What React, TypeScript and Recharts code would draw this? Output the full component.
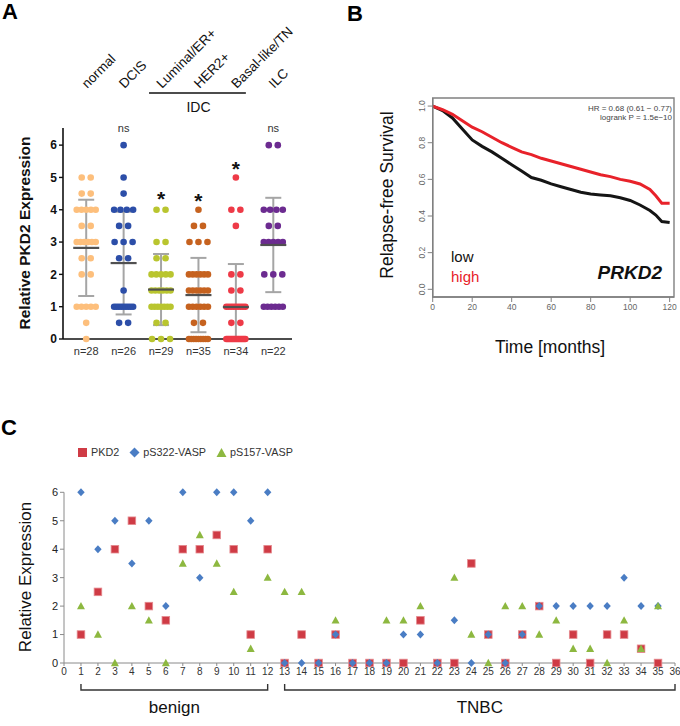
import React from 'react';
import { ScatterChart, Scatter, XAxis, YAxis, ErrorBar, LineChart, Line, ReferenceArea } from 'recharts';

const FONT = "'Liberation Sans', Arial, Helvetica, sans-serif";

// ---------------- Panel A data ----------------
const categoriesA = ['normal', 'DCIS', 'Luminal/ER+', 'HER2+', 'Basal-like/TN', 'ILC'];
const nLabelsA = [28, 26, 29, 35, 34, 22];
const colorsA = ['#FDBF7C', '#2C4EA8', '#B9C52F', '#C6621F', '#EE3A47', '#6C2B90'];
// [value, number of samples]
const normalDots = [[5, 2], [4.5, 2], [4, 5], [3.5, 2], [3, 6], [2.5, 2], [2, 2], [1, 5], [0.5, 1], [0, 1]];
const dcisDots = [[6, 1], [5, 1], [4.5, 1], [4, 4], [3.5, 2], [3, 3], [2.5, 2], [1.5, 1], [1, 9], [0.5, 2]];
const luminalDots = [[4, 2], [3, 2], [2.5, 2], [2, 5], [1.5, 6], [1, 7], [0.5, 2], [0, 3]];
const her2Dots = [[4, 1], [3.5, 2], [3, 3], [2, 6], [1.5, 6], [1, 6], [0.5, 2], [0, 9]];
const basalDots = [[5, 1], [4, 2], [3.5, 1], [2, 2], [1.5, 2], [1, 9], [0.5, 2], [0, 15]];
const ilcDots = [[6, 2], [4, 4], [3.5, 2], [3, 5], [2, 3], [1, 6]];
const meanA = [2.82, 2.35, 1.53, 1.36, 0.99, 2.91];
const sdA = [1.49, 1.59, 1.1, 1.15, 1.33, 1.46];
const sigTextA = ['', 'ns', '*', '*', '*', 'ns'];
const sigLevelA = [0, 6.53, 4.5, 4.43, 5.42, 6.53];
const yTicksA = [0, 1, 2, 3, 4, 5, 6];
const idcGroup = { label: 'IDC', from: 2, to: 4 };

// ---------------- Panel B data ----------------
const monthsB = [0, 5, 10, 15, 20, 25, 30, 35, 40, 45, 50, 55, 60, 65, 70, 75, 80, 85, 90, 95, 100, 105, 110, 113, 116, 120];
const survivalLow = [1.0, 0.975, 0.935, 0.875, 0.815, 0.78, 0.75, 0.715, 0.68, 0.645, 0.61, 0.595, 0.575, 0.56, 0.545, 0.53, 0.52, 0.515, 0.51, 0.5, 0.485, 0.46, 0.43, 0.405, 0.37, 0.365];
const survivalHigh = [1.0, 0.98, 0.955, 0.92, 0.885, 0.86, 0.83, 0.8, 0.775, 0.75, 0.735, 0.715, 0.7, 0.685, 0.67, 0.655, 0.64, 0.625, 0.615, 0.6, 0.59, 0.575, 0.545, 0.51, 0.47, 0.47];
const xTicksB = [0, 20, 40, 60, 80, 100, 120];
const yTicksB = [0, 0.2, 0.4, 0.6, 0.8, 1.0];
const B_XDOM: [number, number] = [0, 122.2];
const B_YDOM: [number, number] = [-0.042, 1.044];

// ---------------- Panel C data ----------------
const samplesC = [1, 2, 3, 4, 5, 6, 7, 8, 9, 10, 11, 12, 13, 14, 15, 16, 17, 18, 19, 20, 21, 22, 23, 24, 25, 26, 27, 28, 29, 30, 31, 32, 33, 34, 35];
const pkd2C = [1, 2.5, 4, 5, 2, 1.5, 4, 4, 4.5, 4, 1, 4, 0, 1, 0, 1, 0, 0, 0, 0, 1.5, 0, 0, 3.5, 1, 0, 1, 2, 0, 1, 0, 1, 1, 0.5, 0];
const pS322C = [6, 4, 5, 3.5, 5, 2, 6, 3, 6, 6, 5, 6, 0, 0, 0, 1, 0, 0, 0, 1, 1, 0, 1.5, 0, 1, 0, 1, 2, 2, 2, 2, 2, 3, 2, 2];
const pS157C = [2, 1, 0, 2, 1.5, 0, 3.5, 4.5, 3.5, 2.5, 0.5, 3, 2.5, 2.5, null, 1.5, null, null, 1.5, 1.5, 2, null, 3, 1, 0, 2, 2, 1, 1.5, 0.5, 0.5, 0, 1.5, 0.5, 2];
const xTicksC = Array.from({ length: 37 }, (_, i) => i);
const yTicksC = [0, 1, 2, 3, 4, 5, 6];
const groupsC = [{ name: 'benign', from: 1, to: 12 }, { name: 'TNBC', from: 13, to: 36 }];
const seriesC = [
  { name: 'PKD2', values: pkd2C, color: '#CF3B45', kind: 'square' },
  { name: 'pS322-VASP', values: pS322C, color: '#4A7DC4', kind: 'diamond' },
  { name: 'pS157-VASP', values: pS157C, color: '#8DB840', kind: 'triangle' },
];

// ---------------- Layout ----------------
const A_PLOT = { left: 63, right: 292, top: 128, bottom: 339 };
const A_XDOM: [number, number] = [-0.62, 5.5];
const pxA = (v: number) => A_PLOT.left + ((v - A_XDOM[0]) / (A_XDOM[1] - A_XDOM[0])) * (A_PLOT.right - A_PLOT.left);

const C_TOP = 440;
const C_PLOT = { left: 64, right: 675, top: 492.3, bottom: 663 };
const C_XDOM: [number, number] = [0, 36];
const pxC = (v: number) => C_PLOT.left + ((v - C_XDOM[0]) / (C_XDOM[1] - C_XDOM[0])) * (C_PLOT.right - C_PLOT.left);

// ---------------- helpers ----------------
type Dot = { x: number; y: number; slot: number; n: number };
const buildDots = (i: number, rows: number[][]): Dot[] => {
  const out: Dot[] = [];
  rows.forEach(([v, c]) => {
    for (let k = 0; k < c; k++) out.push({ x: i, y: v, slot: k - (c - 1) / 2, n: c });
  });
  return out;
};
const dotsA = [normalDots, dcisDots, luminalDots, her2Dots, basalDots, ilcDots].map((r, i) => buildDots(i, r));

const makeDot = (color: string) => (p: any) => {
  const n = p.payload.n;
  const sp = n <= 3 ? 9 : Math.min(6.5, 19 / (n - 1));
  return <circle cx={p.cx + p.payload.slot * sp} cy={p.cy} r={3.3} fill={color} />;
};

const meanTableA = categoriesA.map((c, i) => ({ x: i, y: meanA[i], err: [Math.min(sdA[i], meanA[i]), sdA[i]] }));
const MeanLine = (p: any) => (
  <line x1={p.cx - 13} x2={p.cx + 13} y1={p.cy} y2={p.cy} stroke="#505050" strokeWidth={2.2} />
);
const sigTableA = categoriesA
  .map((c, i) => ({ x: i, y: sigLevelA[i], label: sigTextA[i] }))
  .filter((d) => d.label);
const SigMark = (p: any) => {
  const t = p.payload.label;
  if (t === '*')
    return (
      <text x={p.cx} y={p.cy + 12} textAnchor="middle" fontSize={21} fontWeight="bold" fontFamily={FONT} fill="#111">
        *
      </text>
    );
  return (
    <text x={p.cx} y={p.cy + 4} textAnchor="middle" fontSize={11} fontFamily={FONT} fill="#333">
      {t}
    </text>
  );
};

const survLowData = monthsB.map((t, i) => ({ t, s: survivalLow[i] }));
const survHighData = monthsB.map((t, i) => ({ t, s: survivalHigh[i] }));
const BYTick = (p: any) => {
  const x = p.x - 1;
  return (
    <text x={x} y={p.y} transform={`rotate(-90 ${x} ${p.y})`} textAnchor="middle" fontSize={8.5} fontFamily={FONT} fill="#666">
      {Number(p.payload.value).toFixed(1)}
    </text>
  );
};

const shapeC = (kind: string, color: string) => (p: any) => {
  const { cx, cy } = p;
  if (kind === 'square')
    return <rect x={cx - 3.8} y={cy - 3.8} width={7.6} height={7.6} fill={color} stroke="#E58A8F" strokeWidth={0.8} />;
  if (kind === 'diamond')
    return <polygon points={`${cx},${cy - 4} ${cx + 3.7},${cy} ${cx},${cy + 4} ${cx - 3.7},${cy}`} fill={color} />;
  return <polygon points={`${cx},${cy - 4.2} ${cx + 4},${cy + 3.2} ${cx - 4},${cy + 3.2}`} fill={color} />;
};
const LegendIcon = ({ kind, color }: { kind: string; color: string }) => (
  <svg width={11} height={11} style={{ display: 'block' }}>
    {kind === 'square' && <rect x={1} y={1} width={9} height={9} fill={color} />}
    {kind === 'diamond' && <polygon points="5.5,0.5 10.5,5.5 5.5,10.5 0.5,5.5" fill={color} />}
    {kind === 'triangle' && <polygon points="5.5,1 10.5,10 0.5,10" fill={color} />}
  </svg>
);
const tableC = seriesC.map((s) =>
  samplesC.map((x, i) => ({ x, y: s.values[i] })).filter((d) => d.y !== null && d.y !== undefined)
);

export default function App() {
  return (
    <div style={{ position: 'absolute', left: 0, top: 0, width: 680, height: 726, background: '#fff', fontFamily: FONT, overflow: 'hidden' }}>
      {/* Panel A */}
      <div style={{ position: 'absolute', left: 0, top: 0 }}>
        <ScatterChart width={300} height={365} margin={{ top: A_PLOT.top, right: 300 - A_PLOT.right, bottom: 0, left: 0 }}>
          <XAxis type="number" dataKey="x" domain={A_XDOM} ticks={[0, 1, 2, 3, 4, 5]} height={26} axisLine={{ stroke: '#111', strokeWidth: 1.6 }} tickLine={false} tick={{ fontSize: 11, fill: '#333', fontFamily: FONT }} tickFormatter={(v: number) => `n=${nLabelsA[v]}`} />
          <YAxis type="number" dataKey="y" domain={[0, 6.5]} ticks={yTicksA} width={A_PLOT.left} axisLine={{ stroke: '#111', strokeWidth: 1.6 }} tickLine={{ stroke: '#111', strokeWidth: 1.4 }} tickSize={4} tick={{ fontSize: 12, fontWeight: 'bold', fill: '#111', fontFamily: FONT }} />
          {dotsA.map((d, i) => (
            <Scatter key={categoriesA[i]} data={d} shape={makeDot(colorsA[i])} isAnimationActive={false} />
          ))}
          <Scatter data={meanTableA} shape={MeanLine} isAnimationActive={false}>
            <ErrorBar dataKey="err" direction="y" width={8} stroke="#A5A5A5" strokeWidth={2} isAnimationActive={false} />
          </Scatter>
          <Scatter data={sigTableA} shape={SigMark} isAnimationActive={false} />
        </ScatterChart>
      </div>

      {/* Panel B */}
      <div style={{ position: 'absolute', left: 340, top: 0 }}>
        <LineChart width={340} height={360} margin={{ top: 98, right: 6, bottom: 43, left: 62.7 }}>
          <XAxis type="number" dataKey="t" domain={B_XDOM} ticks={xTicksB} height={20} axisLine={{ stroke: '#808080', strokeWidth: 1.4 }} tickLine={{ stroke: '#808080' }} tickSize={5} tick={{ fontSize: 8.5, fill: '#666', fontFamily: FONT }} />
          <YAxis type="number" domain={B_YDOM} ticks={yTicksB} width={30} axisLine={{ stroke: '#808080', strokeWidth: 1.4 }} tickLine={{ stroke: '#808080' }} tickSize={5} tick={(p: any) => <BYTick {...p} />} />
          <ReferenceArea x1={B_XDOM[0]} x2={B_XDOM[1]} y1={B_YDOM[0]} y2={B_YDOM[1]} fill="none" fillOpacity={0} stroke="#808080" strokeWidth={1.4} ifOverflow="visible" />
          <Line data={survLowData} dataKey="s" type="linear" stroke="#151515" strokeWidth={3} dot={false} isAnimationActive={false} />
          <Line data={survHighData} dataKey="s" type="linear" stroke="#E8222A" strokeWidth={3} dot={false} isAnimationActive={false} />
        </LineChart>
      </div>

      {/* Panel C */}
      <div style={{ position: 'absolute', left: 0, top: C_TOP }}>
        <ScatterChart width={680} height={246} margin={{ top: C_PLOT.top - C_TOP, right: 680 - C_PLOT.right, bottom: 0, left: 0 }}>
          <XAxis type="number" dataKey="x" domain={C_XDOM} ticks={xTicksC} interval={0} height={23} axisLine={{ stroke: '#8A8A8A' }} tickLine={{ stroke: '#8A8A8A' }} tickSize={3} tick={{ fontSize: 10, fill: '#333', fontFamily: FONT }} />
          <YAxis type="number" dataKey="y" domain={[0, 6]} ticks={yTicksC} width={C_PLOT.left} axisLine={{ stroke: '#8A8A8A' }} tickLine={{ stroke: '#8A8A8A' }} tickSize={4} tick={{ fontSize: 11, fill: '#222', fontFamily: FONT }} />
          {seriesC.map((s, i) => (
            <Scatter key={s.name} name={s.name} data={tableC[i]} shape={shapeC(s.kind, s.color)} isAnimationActive={false} />
          ))}
        </ScatterChart>
      </div>

      {/* Panel C legend */}
      <div style={{ position: 'absolute', left: 77, top: 446, display: 'flex', alignItems: 'center', fontSize: 10.8, color: '#333' }}>
        {seriesC.map((s) => (
          <div key={s.name} style={{ display: 'flex', alignItems: 'center', marginRight: 10 }}>
            <LegendIcon kind={s.kind} color={s.color} />
            <span style={{ marginLeft: 3 }}>{s.name}</span>
          </div>
        ))}
      </div>

      {/* Annotation overlay */}
      <svg width={680} height={726} style={{ position: 'absolute', left: 0, top: 0, pointerEvents: 'none' }} fontFamily={FONT}>
        <text x={2} y={19} fontSize={22} fontWeight="bold" fill="#000">A</text>
        <text x={347} y={21} fontSize={22} fontWeight="bold" fill="#000">B</text>
        <text x={1} y={435} fontSize={22} fontWeight="bold" fill="#000">C</text>

        {/* Panel A */}
        {categoriesA.map((c, i) => {
          const px = pxA(i) + 1;
          const py = 89;
          return (
            <text key={c} x={px} y={py} transform={`rotate(-45 ${px} ${py})`} fontSize={13.5} fill="#111">
              {c}
            </text>
          );
        })}
        <text x={24} y={233} transform="rotate(-90 24 233)" textAnchor="middle" dominantBaseline="central" fontSize={15.5} fontWeight="bold" fill="#111">
          Relative PKD2 Expression
        </text>
        <line x1={pxA(idcGroup.from) - 12} x2={pxA(idcGroup.to) + 10} y1={93} y2={93} stroke="#111" strokeWidth={1.6} />
        <text x={pxA((idcGroup.from + idcGroup.to) / 2)} y={112} textAnchor="middle" fontSize={14} fill="#111">{idcGroup.label}</text>

        {/* Panel B */}
        <text x={387} y={195} transform="rotate(-90 387 195)" textAnchor="middle" dominantBaseline="central" fontSize={17.5} fill="#111">
          Relapse-free Survival
        </text>
        <text x={550} y={353} textAnchor="middle" fontSize={17.5} fill="#111">Time [months]</text>
        <text x={672} y={111} textAnchor="end" fontSize={8} fill="#444">HR = 0.68 (0.61 − 0.77)</text>
        <text x={672} y={120} textAnchor="end" fontSize={8} fill="#444">logrank P = 1.5e−10</text>
        <text x={451} y={262} fontSize={15} fill="#111">low</text>
        <text x={451} y={282} fontSize={15} fill="#E8222A">high</text>
        <text x={662} y={279} textAnchor="end" fontSize={19} fontWeight="bold" fontStyle="italic" fill="#111">PRKD2</text>

        {/* Panel C */}
        <text x={25} y={577} transform="rotate(-90 25 577)" textAnchor="middle" dominantBaseline="central" fontSize={17} fill="#111">
          Relative Expression
        </text>
        {groupsC.map((g) => (
          <g key={g.name}>
            <polyline points={`${pxC(g.from)},684 ${pxC(g.from)},690 ${pxC(g.to)},690 ${pxC(g.to)},684`} fill="none" stroke="#333" strokeWidth={1.4} />
            <text x={(pxC(g.from) + pxC(g.to)) / 2} y={713} textAnchor="middle" fontSize={17} fill="#111">{g.name}</text>
          </g>
        ))}
      </svg>
    </div>
  );
}
